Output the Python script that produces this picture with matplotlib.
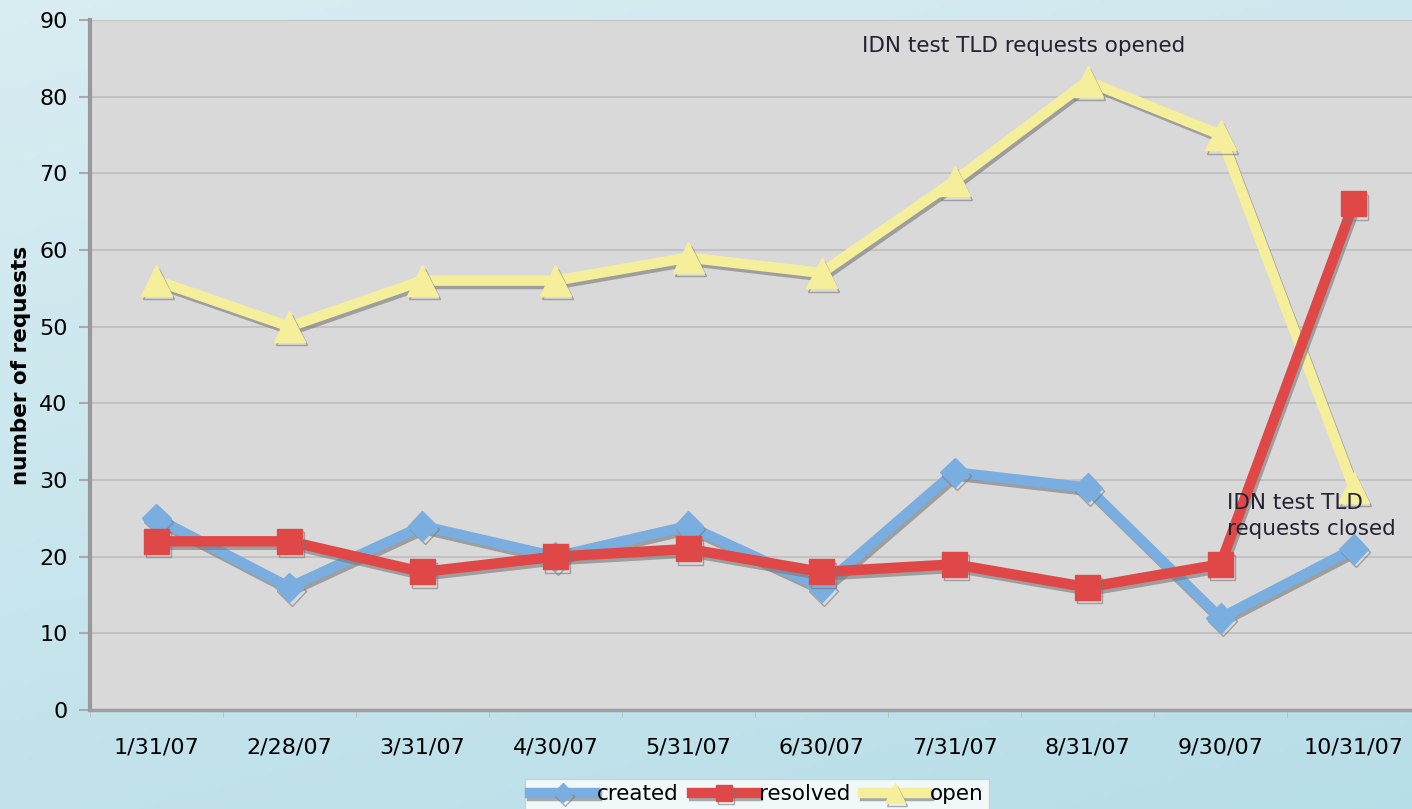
import numpy as np
import matplotlib.pyplot as plt
import matplotlib.patheffects as pe

dates = ['1/31/07', '2/28/07', '3/31/07', '4/30/07', '5/31/07',
         '6/30/07', '7/31/07', '8/31/07', '9/30/07', '10/31/07']
created = [25, 16, 24, 20, 24, 16, 31, 29, 12, 21]
resolved = [22, 22, 18, 20, 21, 18, 19, 16, 19, 66]
open_reqs = [56, 50, 56, 56, 59, 57, 69, 82, 75, 29]

fig = plt.figure(figsize=(14.12, 8.09), dpi=100)

# light blue gradient background
bg = fig.add_axes([0, 0, 1, 1], zorder=-10)
yy, xx = np.mgrid[0:1:200j, 0:1:200j]
top = np.array([0.85, 0.93, 0.95])
bot = np.array([0.72, 0.87, 0.91])
t = (0.7 * yy + 0.3 * xx)[..., None]
grad = top * (1 - t) + bot * t
bg.imshow(grad, aspect='auto', extent=[0, 1, 0, 1])
bg.axis('off')

ax = fig.add_axes([0.0637, 0.1224, 0.942, 0.853])
ax.set_facecolor('#d9d9d9')
x = np.arange(len(dates))

shadow = [pe.SimpleLineShadow(offset=(1.5, -2.5), shadow_color='#777777', alpha=0.6), pe.Normal()]
ax.plot(x, created, color='#7aaee0', lw=7.5, marker='D', ms=15, label='created',
        path_effects=shadow, zorder=3)
ax.plot(x, resolved, color='#e04747', lw=7.5, marker='s', ms=18, label='resolved',
        path_effects=shadow, zorder=4)
ax.plot(x, open_reqs, color='#f5ef9c', lw=7.5, marker='^', ms=22, label='open',
        path_effects=shadow, zorder=3)

ax.set_xlim(-0.5, len(dates) - 0.5)
ax.set_ylim(0, 90)
ax.set_yticks(range(0, 91, 10))
ax.set_xticks(x)
ax.set_xticklabels(dates)
ax.set_xticks(np.arange(-0.5, len(dates), 1), minor=True)
ax.tick_params(axis='x', which='major', length=0, pad=20, labelsize=16)
ax.tick_params(axis='x', which='minor', length=5, color='#bbbbbb')
ax.tick_params(axis='y', length=8, color='#aaaaaa', width=1.5, pad=8, labelsize=16)
ax.yaxis.grid(True, color='#c2c2c2', lw=1.5)
ax.set_axisbelow(True)
for s in ['top', 'right']:
    ax.spines[s].set_visible(False)
ax.spines['left'].set_color('#999999')
ax.spines['left'].set_linewidth(3)
ax.spines['bottom'].set_color('#a0a0a0')
ax.spines['bottom'].set_linewidth(2.5)

ax.set_ylabel('number of requests', fontsize=15.5, fontweight='bold', labelpad=6)

ax.text(6.52, 86.6, 'IDN test TLD requests opened', fontsize=15.5, ha='center', va='center',
        color='#222233', zorder=6)
ax.text(8.05, 25.3, 'IDN test TLD\nrequests closed', fontsize=15.5, ha='left', va='center',
        color='#222233', linespacing=1.35, zorder=6)

leg = fig.legend(loc='lower center', bbox_to_anchor=(0.536, -0.014), ncol=3, fontsize=15.5,
                 frameon=True, fancybox=False, handlelength=3.0, handletextpad=0.1,
                 columnspacing=0.6, borderpad=0.25, markerscale=0.65)
leg.get_frame().set_edgecolor('#cccccc')
leg.get_frame().set_facecolor('white')

fig.savefig('out.png', dpi=100)
